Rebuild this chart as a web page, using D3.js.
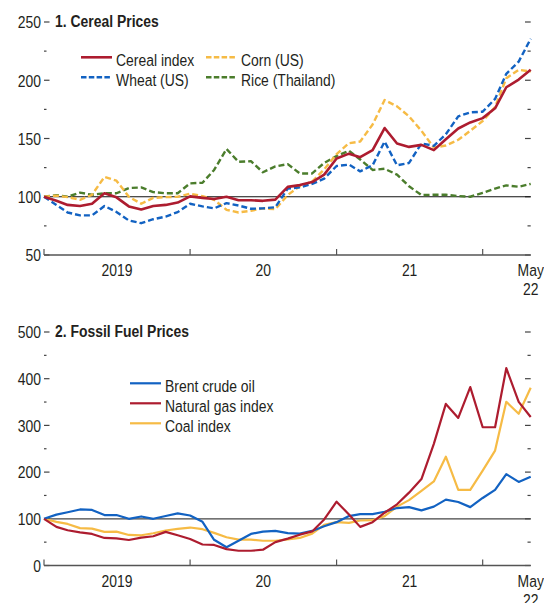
<!DOCTYPE html>
<html>
<head>
<meta charset="utf-8">
<script src="https://cdn.jsdelivr.net/npm/d3@7"></script>
<style>
  body { margin: 0; background: #fff; }
  svg text { font-family: "Liberation Sans", Arial, sans-serif; font-size: 17px; fill: #231f20; }
</style>
</head>
<body>
<svg width="544" height="603"></svg>
<script>
// Monthly, Jan 2019 .. May 2022 (index, Jan 2019 = 100)
var months = d3.timeMonth.range(new Date(2019, 0, 1), new Date(2022, 5, 1));

var cerealIndex = [100, 96.5, 93, 92, 94, 103, 99.5, 91.7, 89, 92, 93, 95, 100.3, 99, 98, 100, 97, 97, 96.5, 97.5, 108.5,
  110, 112.6, 119, 132.8, 137, 134, 140, 159, 145.7, 142.8, 144.5, 140, 149.4, 158.6, 163.8, 167.5, 175.9, 194, 200.6, 209];
var cornUS = [100, 101, 99.7, 97.4, 101.7, 117, 113.8, 100, 94, 99, 99.7, 100, 102.6, 100.5, 97.4, 88.8, 86.5, 88, 90, 89.4, 101.5,
  109, 113, 123.5, 136.5, 146, 147.4, 162, 183, 177.6, 169, 156.6, 142.2, 144, 148.9, 156.6, 165, 177, 201.7, 209, 207.5];
var wheatUS = [100, 93, 86.5, 84, 84, 92, 87, 79.6, 77.3, 80.7, 83, 86.8, 94, 91.7, 90, 94.5, 92.5, 89.7, 90, 91, 107,
  108, 111, 115.5, 126.4, 127.6, 121.8, 127, 147.4, 127, 129, 145.7, 143.7, 153.7, 169, 172.4, 173, 184, 205.5, 216, 235.6];
var riceThai = [100, 101.4, 100, 103.5, 101.7, 103, 103, 107.5, 108, 104, 103, 103, 111.5, 112, 123, 141, 130, 130.5, 121, 126, 128,
  120, 120, 129, 135, 139.5, 132, 123, 124, 119, 109, 101.4, 101.7, 101.7, 100.6, 100, 103.4, 107, 109.8, 108.6, 111];

var brent = [100, 109, 114, 120, 119, 108, 108, 100, 105, 100, 106, 111.5, 107, 93.5, 55, 39, 53, 67.6, 72.6, 74, 69.5,
  68.3, 74, 84, 92.8, 105.8, 110, 110, 115, 123, 125, 118, 126, 141, 136, 125, 144.6, 162, 195.7, 179, 190];
var natGas = [100, 82.7, 75.5, 71, 67.6, 59, 58, 54.6, 59.7, 62.6, 72, 64.7, 56.8, 45, 44, 35, 31.6, 31.6, 33.8, 50, 57.5,
  66, 73, 98.6, 136.7, 109, 82.7, 92.8, 113, 131, 156, 185, 260.5, 346, 316, 382, 296, 296, 422.5, 350.5, 318];
var coal = [100, 93.5, 89, 80, 79, 72, 72.6, 65.4, 64.7, 69, 75, 78.4, 81.3, 77.7, 69.8, 60.4, 55.4, 55.4, 53, 53, 56,
  59, 68.3, 87, 92.8, 91.4, 96.4, 97, 105.8, 126, 140, 159.8, 180, 233, 162, 162, 203, 246, 350.5, 325, 380.8];

var yearLabels = ["2019", "20", "21"];
var cerealTicks = [50, 100, 150, 200, 250];
var fuelTicks = [0, 100, 200, 300, 400, 500];

var red = "#ad1c2f", blue = "#1262c2", yellow = "#f6bb45", green = "#4b7d2c";

var svg = d3.select("svg");

// narrow type: no Arial Narrow here, so squeeze Liberation Sans horizontally
function label(parent, px, py, str, anchor) {
  return parent.append("text")
      .attr("transform", "translate(" + px + "," + py + ") scale(0.82,1)")
      .attr("text-anchor", anchor || "start")
      .text(str);
}

// shared x scale
var x = d3.scaleTime()
    .domain([months[0], months[months.length - 1]])
    .range([44, 530.7]);

function panel(opts) {
  var y = d3.scaleLinear().domain(opts.domain).range([opts.bottom, opts.top]);
  var g = svg.append("g");
  var step = (opts.ticks[1] - opts.ticks[0]) / 2;
  var minor = d3.range(opts.domain[0] + step, opts.domain[1], step * 2);

  // y ticks, left and right, pointing inwards
  function ticks(vals, x1, x2) {
    g.selectAll(null).data(vals).enter().append("line")
        .attr("x1", x1).attr("x2", x2)
        .attr("y1", function(d){ return y(d) }).attr("y2", function(d){ return y(d) })
        .attr("stroke", "#444").attr("stroke-width", 1.2);
  }
  ticks(opts.ticks, 44, 49.5);
  ticks(minor, 44, 46.5);
  ticks(opts.ticks, 525, 530.7);
  ticks(minor, 527.5, 530.7);
  opts.ticks.forEach(function(d){ label(g, 41, y(d) + 6.3, d, "end") });

  // title
  label(g, 55, opts.top + 4.8, opts.title).style("font-weight", "bold");

  // x axis line + year ticks
  g.append("line").attr("x1", 44).attr("x2", 530.7)
      .attr("y1", opts.bottom).attr("y2", opts.bottom)
      .attr("stroke", "#555").attr("stroke-width", 1.5);
  var yearStarts = months.filter(function(d){ return d.getMonth() == 0 });
  g.selectAll(null).data(yearStarts).enter().append("line")
      .attr("x1", function(d){ return x(d) }).attr("x2", function(d){ return x(d) })
      .attr("y1", opts.bottom).attr("y2", opts.bottom - 6)
      .attr("stroke", "#555").attr("stroke-width", 1.2);
  yearLabels.forEach(function(d, i){
    label(g, (x(yearStarts[i]) + x(yearStarts[i + 1])) / 2, opts.bottom + 21, d, "middle");
  });
  var last = x(months[months.length - 1]);
  label(g, last, opts.bottom + 21, "May", "middle");
  label(g, last, opts.bottom + 40, "22", "middle");

  // 100 reference line
  g.append("line").attr("x1", 44).attr("x2", 530.7)
      .attr("y1", y(100)).attr("y2", y(100))
      .attr("stroke", opts.refColor).attr("stroke-width", 1.2);

  var line = d3.line()
      .x(function(d, i){ return x(months[i]) })
      .y(function(d){ return y(d) });

  opts.series.forEach(function(s){
    g.append("path")
        .attr("d", line(s.values))
        .attr("fill", "none")
        .attr("stroke", s.color)
        .attr("stroke-width", s.width)
        .attr("stroke-dasharray", s.dash || null)
        .attr("stroke-linejoin", "round");
  });

  // legend
  opts.series.forEach(function(s){
    g.append("line").attr("x1", s.lx).attr("x2", s.lx + 31)
        .attr("y1", s.ly).attr("y2", s.ly)
        .attr("stroke", s.color).attr("stroke-width", s.width)
        .attr("stroke-dasharray", s.dash ? "5.5,2.3" : null);
    label(g, s.lx + 35, s.ly + 8.8, s.name);
  });
}

panel({
  title: "1. Cereal Prices",
  domain: [50, 250], top: 22, bottom: 255,
  ticks: cerealTicks, refColor: "#111",
  series: [
    {name: "Rice (Thailand)", values: riceThai, color: green, width: 2.4, dash: "6,3", lx: 206, ly: 77.3},
    {name: "Corn (US)", values: cornUS, color: yellow, width: 2.4, dash: "6,3", lx: 206, ly: 57.3},
    {name: "Wheat (US)", values: wheatUS, color: blue, width: 2.4, dash: "6,3", lx: 81, ly: 77.3},
    {name: "Cereal index", values: cerealIndex, color: red, width: 2.6, lx: 81, ly: 57.3}
  ]
});

panel({
  title: "2. Fossil Fuel Prices",
  domain: [0, 500], top: 332, bottom: 565.5,
  ticks: fuelTicks, refColor: "#444",
  series: [
    {name: "Coal index", values: coal, color: yellow, width: 2.2, lx: 130, ly: 423.3},
    {name: "Brent crude oil", values: brent, color: blue, width: 2.2, lx: 130, ly: 383.3},
    {name: "Natural gas index", values: natGas, color: red, width: 2.2, lx: 130, ly: 403.3}
  ]
});
</script>
</body>
</html>
